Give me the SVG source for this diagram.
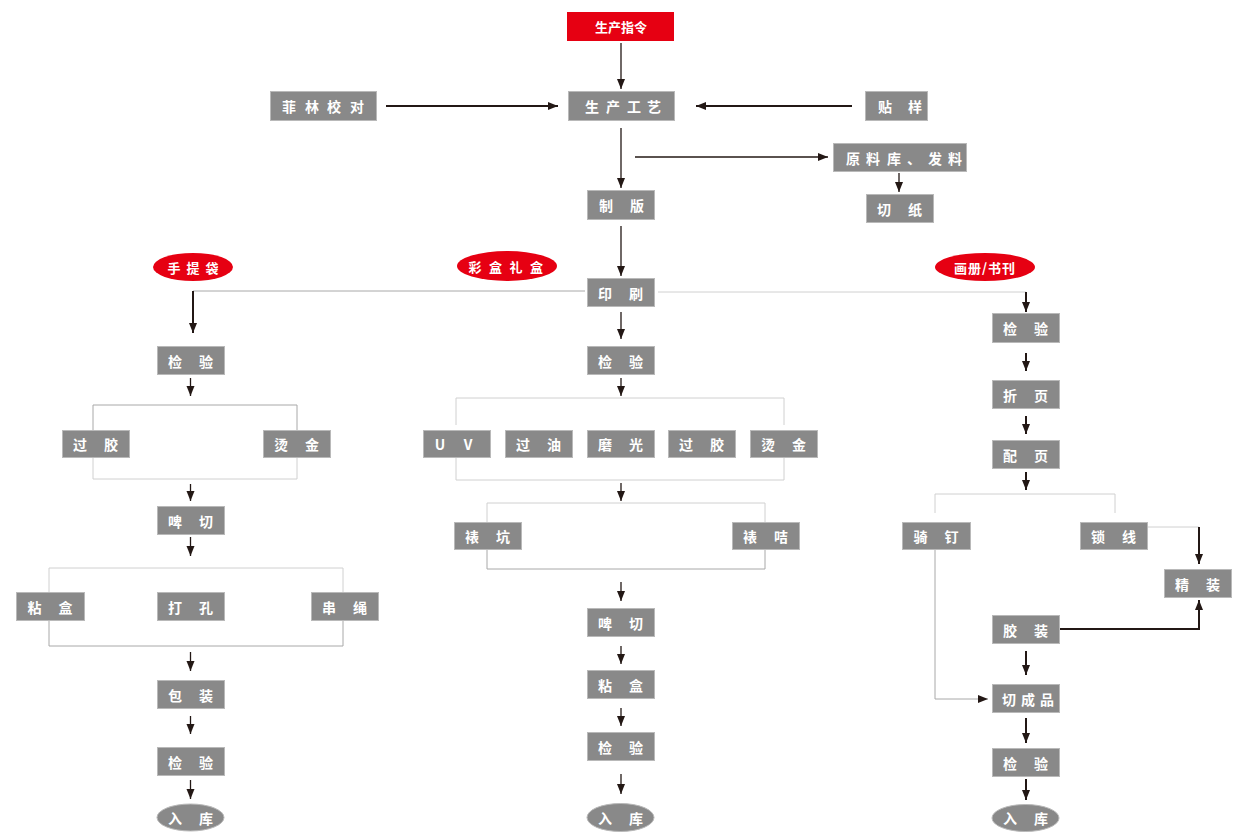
<svg xmlns="http://www.w3.org/2000/svg" width="1246" height="838" viewBox="0 0 1246 838">
<style>
.b{fill:#898989;stroke:#b9b9b9;stroke-width:1}
.r{fill:#e60012}
.t{fill:#fff;font-family:"Noto Sans CJK SC","Noto Sans",sans-serif;font-size:14px;font-weight:700;text-anchor:middle;dominant-baseline:central}
.rt{fill:#fff;font-family:"Noto Sans CJK SC","Noto Sans",sans-serif;font-size:13px;font-weight:700;text-anchor:middle;dominant-baseline:central}
.a{fill:none;stroke:#231815;stroke-width:1.3}
.A{fill:none;stroke:#231815;stroke-width:2}
.g{fill:none;stroke:#a8a8a8;stroke-width:1}
.l{fill:none;stroke:#d0d0d0;stroke-width:1}
</style>
<defs>
<marker id="ah" markerUnits="userSpaceOnUse" markerWidth="10" markerHeight="9" viewBox="0 0 10 9" refX="10" refY="4.5" orient="auto">
<path d="M0,0.5 L10,4.5 L0,8.5 z" fill="#231815"/>
</marker>
</defs>
<rect width="1246" height="838" fill="#fff"/>

<g id="connectors">
<path class="a" d="M621,43 V89" marker-end="url(#ah)"/>
<path class="A" d="M386,106 H558" marker-end="url(#ah)"/>
<path class="A" d="M852,106 H696" marker-end="url(#ah)"/>
<path class="a" d="M621,128 V188" marker-end="url(#ah)"/>
<path class="a" d="M635,157 H828" marker-end="url(#ah)"/>
<path class="a" d="M899,173 V192" marker-end="url(#ah)"/>
<path class="a" d="M621,226 V276" marker-end="url(#ah)"/>
<path class="g" d="M585,291 H193"/>
<path class="A" d="M193,291 V333" marker-end="url(#ah)"/>
<path class="l" d="M658,292 H1026"/>
<path class="A" d="M1026,292 V312" marker-end="url(#ah)"/>
<!-- left column -->
<path class="a" d="M190.5,378 V396" marker-end="url(#ah)"/>
<path class="g" d="M93,430 V405 H297 V430"/>
<path class="l" d="M93,457 V479 H297 V457"/>
<path class="a" d="M190.5,484 V501" marker-end="url(#ah)"/>
<path class="a" d="M190.5,537 V556" marker-end="url(#ah)"/>
<path class="l" d="M49,592 V568 H343 V592"/>
<path class="g" d="M49,620 V646 H343 V620"/>
<path class="a" d="M190.5,652 V671" marker-end="url(#ah)"/>
<path class="a" d="M190.5,716 V734" marker-end="url(#ah)"/>
<path class="a" d="M190.5,780 V799" marker-end="url(#ah)"/>
<!-- middle column -->
<path class="a" d="M621,312 V339" marker-end="url(#ah)"/>
<path class="a" d="M621,378 V396" marker-end="url(#ah)"/>
<path class="l" d="M456,425 V398 H784 V425"/>
<path class="l" d="M456,455 V480 H784 V455"/>
<path class="a" d="M621,483 V501" marker-end="url(#ah)"/>
<path class="l" d="M487,522 V503 H765 V522"/>
<path class="g" d="M487,549 V569 H765 V549"/>
<path class="a" d="M621,582 V601" marker-end="url(#ah)"/>
<path class="a" d="M621,646 V664" marker-end="url(#ah)"/>
<path class="a" d="M621,708 V726" marker-end="url(#ah)"/>
<path class="a" d="M621,774 V794" marker-end="url(#ah)"/>
<!-- right column -->
<path class="A" d="M1026,353 V371" marker-end="url(#ah)"/>
<path class="A" d="M1026,416 V434" marker-end="url(#ah)"/>
<path class="A" d="M1026,472 V490" marker-end="url(#ah)"/>
<path class="l" d="M935,513 V494 H1115 V513"/>
<path class="l" d="M1148,527 H1199"/>
<path class="A" d="M1199,527 V564" marker-end="url(#ah)"/>
<path class="A" d="M1059,629 H1199 V600" marker-end="url(#ah)"/>
<path class="A" d="M1026,651 V675" marker-end="url(#ah)"/>
<path class="g" d="M935,549 V699 H988" marker-end="url(#ah)"/>
<path class="A" d="M1026,718 V743" marker-end="url(#ah)"/>
<path class="A" d="M1026,779 V800" marker-end="url(#ah)"/>
</g>

<g id="n-zhiling"><rect class="r" x="567" y="12" width="107" height="29"/><text class="rt" x="621" y="26.5">生产指令</text></g>
<g id="n-gongyi"><rect class="b" x="568.5" y="91.5" width="106" height="29"/><text class="t" x="592 613 634 654" y="106">生产工艺</text></g>
<g id="n-feilin"><rect class="b" x="270.5" y="91.5" width="106" height="29"/><text class="t" x="289 312 334 357" y="106">菲林校对</text></g>
<g id="n-tieyang"><rect class="b" x="865.5" y="91.5" width="62" height="29"/><text class="t" x="885 915" y="106">贴样</text></g>
<g id="n-zhiban"><rect class="b" x="587.5" y="190.5" width="67" height="29"/><text class="t" x="606 637" y="205">制版</text></g>
<g id="n-yuanliao"><rect class="b" x="833.5" y="143.5" width="133" height="28"/><text class="t" x="853 873 894 914 935 955" y="157.5">原料库、发料</text></g>
<g id="n-qiezhi"><rect class="b" x="866.5" y="194.5" width="67" height="28"/><text class="t" x="884 915" y="208.5">切纸</text></g>
<g id="n-yinshua"><rect class="b" x="587.5" y="278.5" width="67" height="28"/><text class="t" x="605 636" y="292.5">印刷</text></g>

<g id="c-shoutidai"><ellipse class="r" cx="193" cy="267" rx="40" ry="14"/><text class="rt" x="174 193 212" y="267">手提袋</text></g>
<g id="c-caihe"><ellipse class="r" cx="507" cy="266" rx="50" ry="15"/><text class="rt" x="475 495.5 516 536.5" y="266">彩盒礼盒</text></g>
<g id="c-huace"><ellipse class="r" cx="985" cy="267" rx="50" ry="14"/><text class="rt" x="985" y="267" letter-spacing="1">画册/书刊</text></g>

<!-- left column -->
<g id="l-jianyan1"><rect class="b" x="157.5" y="346.5" width="67" height="28"/><text class="t" x="175 206" y="360.5">检验</text></g>
<g id="l-guojiao"><rect class="b" x="62.5" y="430.5" width="67" height="27"/><text class="t" x="80 111" y="444">过胶</text></g>
<g id="l-tangjin"><rect class="b" x="263.5" y="430.5" width="67" height="27"/><text class="t" x="281 312" y="444">烫金</text></g>
<g id="l-piqie"><rect class="b" x="157.5" y="506.5" width="67" height="28"/><text class="t" x="175 206" y="520.5">啤切</text></g>
<g id="l-zhanhe"><rect class="b" x="16.5" y="592.5" width="68" height="28"/><text class="t" x="34.5 65.5" y="606.5">粘盒</text></g>
<g id="l-dakong"><rect class="b" x="157.5" y="592.5" width="67" height="28"/><text class="t" x="175 206" y="606.5">打孔</text></g>
<g id="l-chuansheng"><rect class="b" x="311.5" y="592.5" width="67" height="28"/><text class="t" x="329 360" y="606.5">串绳</text></g>
<g id="l-baozhuang"><rect class="b" x="157.5" y="680.5" width="67" height="28"/><text class="t" x="175 206" y="694.5">包装</text></g>
<g id="l-jianyan2"><rect class="b" x="157.5" y="747.5" width="67" height="28"/><text class="t" x="175 206" y="761.5">检验</text></g>
<g id="l-ruku"><ellipse class="b" cx="190.5" cy="817.5" rx="33.5" ry="13.5"/><text class="t" x="175 206" y="817.5">入库</text></g>

<!-- middle column -->
<g id="m-jianyan1"><rect class="b" x="587.5" y="346.5" width="67" height="28"/><text class="t" x="605 636" y="360.5">检验</text></g>
<g id="m-uv"><rect class="b" x="423.5" y="430.5" width="67" height="27"/><text class="t" x="440 468" y="444">UV</text></g>
<g id="m-guoyou"><rect class="b" x="505.5" y="430.5" width="67" height="27"/><text class="t" x="523 554" y="444">过油</text></g>
<g id="m-moguang"><rect class="b" x="587.5" y="430.5" width="67" height="27"/><text class="t" x="605 636" y="444">磨光</text></g>
<g id="m-guojiao"><rect class="b" x="668.5" y="430.5" width="67" height="27"/><text class="t" x="686 717" y="444">过胶</text></g>
<g id="m-tangjin"><rect class="b" x="750.5" y="430.5" width="67" height="27"/><text class="t" x="768 799" y="444">烫金</text></g>
<g id="m-biaokeng"><rect class="b" x="454.5" y="522.5" width="67" height="27"/><text class="t" x="472 503" y="536">裱坑</text></g>
<g id="m-biaoji"><rect class="b" x="732.5" y="522.5" width="67" height="27"/><text class="t" x="750 781" y="536">裱咭</text></g>
<g id="m-piqie"><rect class="b" x="587.5" y="608.5" width="67" height="28"/><text class="t" x="605 636" y="622.5">啤切</text></g>
<g id="m-zhanhe"><rect class="b" x="587.5" y="670.5" width="67" height="28"/><text class="t" x="605 636" y="684.5">粘盒</text></g>
<g id="m-jianyan2"><rect class="b" x="587.5" y="732.5" width="67" height="28"/><text class="t" x="605 636" y="746.5">检验</text></g>
<g id="m-ruku"><ellipse class="b" cx="620.5" cy="817.5" rx="33.5" ry="14"/><text class="t" x="605 636" y="817.5">入库</text></g>

<!-- right column -->
<g id="r-jianyan1"><rect class="b" x="992.5" y="313.5" width="67" height="29"/><text class="t" x="1010 1041" y="328">检验</text></g>
<g id="r-zheye"><rect class="b" x="992.5" y="380.5" width="67" height="28"/><text class="t" x="1010 1041" y="394.5">折页</text></g>
<g id="r-peiye"><rect class="b" x="992.5" y="440.5" width="67" height="28"/><text class="t" x="1010 1041" y="454.5">配页</text></g>
<g id="r-qiding"><rect class="b" x="902.5" y="522.5" width="68" height="27"/><text class="t" x="920.5 951.5" y="536">骑钉</text></g>
<g id="r-suoxian"><rect class="b" x="1080.5" y="522.5" width="67" height="27"/><text class="t" x="1098 1129" y="536">锁线</text></g>
<g id="r-jingzhuang"><rect class="b" x="1164.5" y="569.5" width="67" height="28"/><text class="t" x="1182 1213" y="583.5">精装</text></g>
<g id="r-jiaozhuang"><rect class="b" x="992.5" y="615.5" width="67" height="28"/><text class="t" x="1010 1041" y="629.5">胶装</text></g>
<g id="r-qiechengpin"><rect class="b" x="992.5" y="684.5" width="67" height="28"/><text class="t" x="1009 1028 1047" y="698.5">切成品</text></g>
<g id="r-jianyan2"><rect class="b" x="992.5" y="748.5" width="67" height="28"/><text class="t" x="1010 1041" y="762.5">检验</text></g>
<g id="r-ruku"><ellipse class="b" cx="1025.5" cy="818" rx="33.5" ry="13.5"/><text class="t" x="1010 1041" y="818">入库</text></g>
</svg>
